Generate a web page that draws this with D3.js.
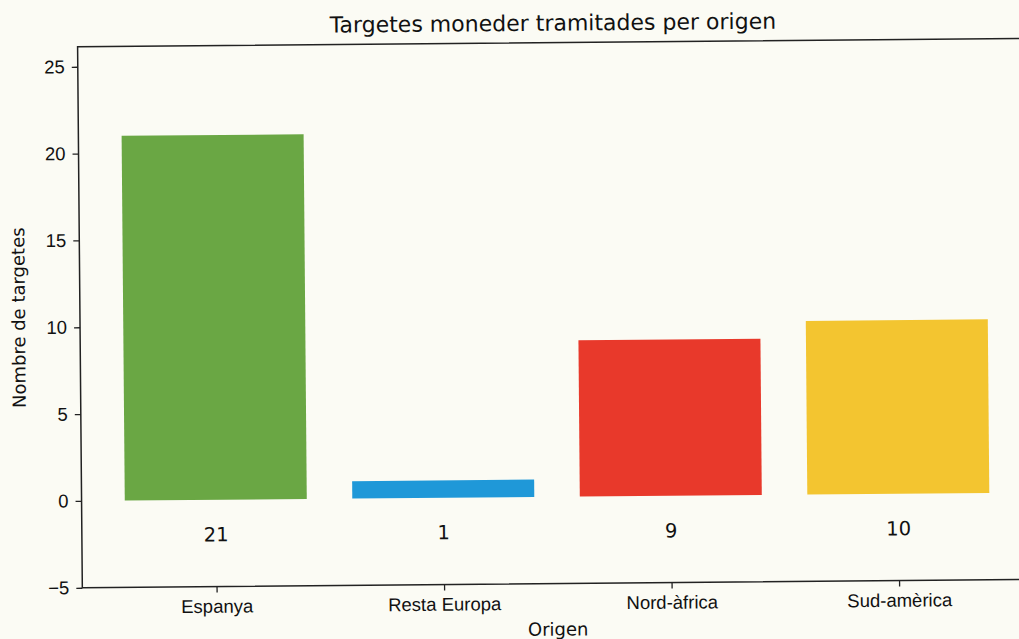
<!DOCTYPE html>
<html>
<head>
<meta charset="utf-8">
<script src="https://cdn.jsdelivr.net/npm/d3@7"></script>
<style>
  body { margin: 0; background: #fbfbf4; }
  svg { display: block; font-family: "DejaVu Sans", sans-serif; }
</style>
</head>
<body>
<svg id="chart" width="1019" height="639"></svg>
<script>
var categories = ["Espanya", "Resta Europa", "Nord-àfrica", "Sud-amèrica"];
var values = [21, 1, 9, 10];
var colors = ["#6aa744", "#1f98d8", "#e8392b", "#f3c530"];
var yTicks = [-5, 0, 5, 10, 15, 20, 25];
var labelY = -2;

var margin = {left: 80, top: 43, right: 1031, bottom: 584};
var svg = d3.select("#chart");
// scanned page is a touch tilted
var g = svg.append("g").attr("transform", "rotate(-0.5,510,320)");

// x: matplotlib style, bar width 0.8, xlim [-0.59, 3.59]
var x = d3.scaleLinear().domain([-0.59, 3.59]).range([margin.left, margin.right]);
var y = d3.scaleLinear().domain([-5, 26.15]).range([margin.bottom, margin.top]);

g.selectAll("rect.bar")
  .data(values)
  .enter().append("rect")
  .attr("class", "bar")
  .attr("x", function(d, i){ return x(i - 0.4); })
  .attr("width", function(d, i){ return x(i + 0.4) - x(i - 0.4); })
  .attr("y", function(d){ return y(d); })
  .attr("height", function(d){ return y(0) - y(d); })
  .attr("fill", function(d, i){ return colors[i]; });

// value labels under the bars
g.selectAll("text.val")
  .data(values)
  .enter().append("text")
  .attr("class", "val")
  .attr("x", function(d, i){ return x(i); })
  .attr("y", y(labelY))
  .attr("dy", "0.35em")
  .attr("text-anchor", "middle")
  .style("font-size", "19.5px")
  .style("fill", "#111")
  .text(function(d){ return d; });

// axes
var yAxis = d3.axisLeft(y).tickValues(yTicks).tickSize(6).tickPadding(7)
  .tickFormat(function(d){ return d < 0 ? "\u2212" + Math.abs(d) : d; });
var gy = g.append("g").attr("transform", "translate(" + margin.left + ",0)").call(yAxis);

var xAxis = d3.axisBottom(x).tickValues(d3.range(categories.length)).tickSize(6).tickPadding(7)
  .tickFormat(function(d){ return categories[d]; });
var gx = g.append("g").attr("transform", "translate(0," + margin.bottom + ")").call(xAxis);

[gx, gy].forEach(function(a){
  a.select(".domain").remove();
  a.selectAll("line").attr("stroke", "#222").attr("stroke-width", 1.3);
  a.selectAll("text").style("font-size", "18.5px").style("fill", "#111").attr("font-family", null);
});

// spines
g.append("rect")
  .attr("x", margin.left).attr("y", margin.top)
  .attr("width", margin.right - margin.left).attr("height", margin.bottom - margin.top)
  .attr("fill", "none").attr("stroke", "#222").attr("stroke-width", 1.5);

// title and axis labels
var cx = (margin.left + margin.right) / 2;
g.append("text").attr("x", cx).attr("y", 31).attr("text-anchor", "middle")
  .style("font-size", "22px").style("fill", "#111")
  .text("Targetes moneder tramitades per origen");
g.append("text").attr("x", cx).attr("y", 636).attr("text-anchor", "middle")
  .style("font-size", "18px").style("fill", "#111").text("Origen");
g.append("text")
  .attr("transform", "translate(25," + ((margin.top + margin.bottom) / 2) + ") rotate(-90)")
  .attr("text-anchor", "middle")
  .style("font-size", "18px").style("fill", "#111").text("Nombre de targetes");
</script>
</body>
</html>
